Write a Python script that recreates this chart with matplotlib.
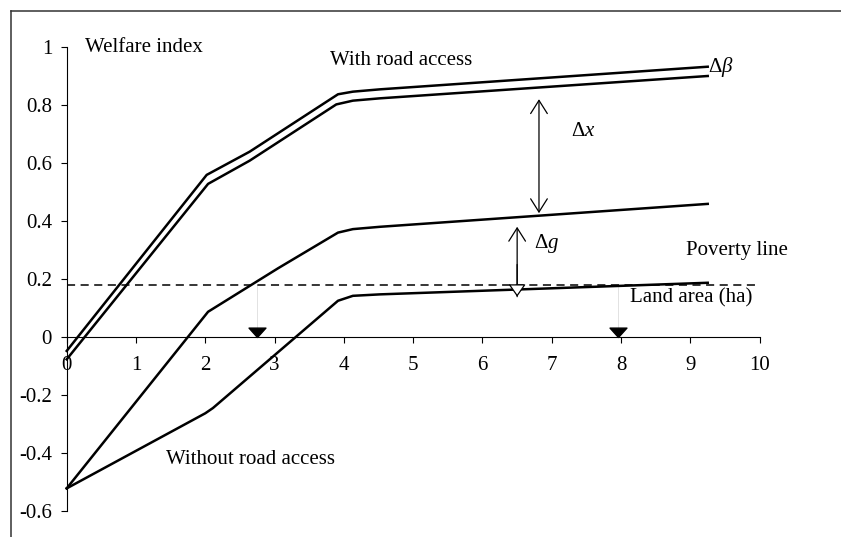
import matplotlib
matplotlib.use("Agg")
import matplotlib.pyplot as plt
from matplotlib.lines import Line2D
from matplotlib.path import Path

plt.rcParams['font.family'] = ['Liberation Serif', 'DejaVu Serif']
plt.rcParams['mathtext.fontset'] = 'custom'
plt.rcParams['mathtext.rm'] = 'Liberation Serif'
plt.rcParams['mathtext.it'] = 'Liberation Serif:italic'

# ---- data ----
road_hi_x = [0, 2.02, 2.64, 3.915, 4.13, 4.52, 9.25]
road_hi_y = [-0.048, 0.559, 0.639, 0.837, 0.846, 0.854, 0.932]
road_lo_x = [0, 2.04, 2.64, 3.89, 4.13, 4.52, 9.25]
road_lo_y = [-0.077, 0.528, 0.608, 0.802, 0.815, 0.823, 0.900]
noroad_hi_x = [0, 2.04, 3.05, 3.915, 4.13, 4.52, 9.25]
noroad_hi_y = [-0.522, 0.087, 0.237, 0.360, 0.372, 0.380, 0.459]
noroad_lo_x = [0, 2.0, 2.11, 3.915, 4.13, 4.52, 9.25]
noroad_lo_y = [-0.522, -0.263, -0.245, 0.125, 0.142, 0.147, 0.187]
poverty_line = 0.178
marker_x = [2.75, 7.96]
x_ticks = list(range(0, 11))
y_ticks = [-0.6, -0.4, -0.2, 0, 0.2, 0.4, 0.6, 0.8, 1]
y_tick_labels = ['-0.6', '-0.4', '-0.2', '0', '0.2', '0.4', '0.6', '0.8', '1']
dx_arrow = (6.815, 0.82, 0.427)
dg_arrow = (6.50, 0.380, 0.139)

W, H = 841, 537
fig = plt.figure(figsize=(W / 100, H / 100), dpi=100)
xl = (-0.9, 11.0)
yl = (-0.68, 1.12)
pxu, pyu = 69.3, 290.0
left = 66.7 + xl[0] * pxu
bottom = (H - 337) + yl[0] * pyu
ax = fig.add_axes([left / W, bottom / H, (xl[1] - xl[0]) * pxu / W, (yl[1] - yl[0]) * pyu / H])
ax.set_xlim(*xl)
ax.set_ylim(*yl)
ax.patch.set_visible(False)

for s in ['top', 'right']:
    ax.spines[s].set_visible(False)
ax.spines['left'].set_position(('data', 0))
ax.spines['bottom'].set_position(('data', 0))
ax.spines['left'].set_bounds(-0.6, 1)
ax.spines['bottom'].set_bounds(0, 10)
for s in ['left', 'bottom']:
    ax.spines[s].set_linewidth(0.8)
    ax.spines[s].set_color('black')

fs = 15
ax.set_xticks(x_ticks)
ax.set_xticklabels([str(t) for t in x_ticks], fontsize=fs)
ax.set_yticks(y_ticks)
ax.set_yticklabels(y_tick_labels, fontsize=fs)
ax.tick_params(axis='x', direction='out', length=4.5, width=0.8, pad=9)
ax.tick_params(axis='y', direction='out', length=4.5, width=0.8, pad=6)

lw = 1.8
for xs, ys in [(road_hi_x, road_hi_y), (road_lo_x, road_lo_y),
               (noroad_hi_x, noroad_hi_y), (noroad_lo_x, noroad_lo_y)]:
    ax.plot(xs, ys, color='black', lw=lw, solid_joinstyle='round', zorder=3)

ax.plot([0, 10], [poverty_line, poverty_line], color='black', lw=1.1,
        linestyle=(0, (5.3, 3.6)), zorder=2)

for mx in marker_x:
    ax.plot([mx, mx], [poverty_line, 0.03], color='#dddddd', lw=0.6, zorder=1)
tri = Path([(-0.9, 1.0), (0.9, 1.0), (0.0, 0.0), (-0.9, 1.0)],
           [Path.MOVETO, Path.LINETO, Path.LINETO, Path.CLOSEPOLY])
ax.plot(marker_x, [0, 0], linestyle='none', marker=tri, markersize=13.5,
        color='black', zorder=4)

ax.annotate('', xy=(dx_arrow[0], dx_arrow[2]), xytext=(dx_arrow[0], dx_arrow[1]),
            arrowprops=dict(arrowstyle='<->,head_length=0.95,head_width=0.6',
                            color='black', lw=0.9, shrinkA=0, shrinkB=0))
ax.annotate('', xy=(dg_arrow[0], dg_arrow[1]), xytext=(dg_arrow[0], dg_arrow[2]),
            arrowprops=dict(arrowstyle='->,head_length=0.95,head_width=0.6',
                            color='black', lw=0.9, shrinkA=0, shrinkB=0))
ax.annotate('', xy=(dg_arrow[0], dg_arrow[2]), xytext=(dg_arrow[0], 0.25),
            arrowprops=dict(arrowstyle='-|>,head_length=0.77,head_width=0.54',
                            color='black', fc='white', lw=0.9, shrinkA=0, shrinkB=0))

ax.text(0.27, 1.0, 'Welfare index', fontsize=fs, va='center', ha='left')
ax.text(3.8, 0.952, 'With road access', fontsize=fs, va='center', ha='left')
ax.text(9.26, 0.93, 'Δ$\\mathit{β}$', fontsize=fs, va='center', ha='left')
ax.text(7.28, 0.708, 'Δ$\\mathit{x}$', fontsize=fs, va='center', ha='left')
ax.text(6.75, 0.324, 'Δ$\\mathit{g}$', fontsize=fs, va='center', ha='left')
ax.text(8.94, 0.30, 'Poverty line', fontsize=fs, va='center', ha='left')
ax.text(8.13, 0.136, 'Land area (ha)', fontsize=fs, va='center', ha='left')
ax.text(1.44, -0.421, 'Without road access', fontsize=fs, va='center', ha='left')

fig.add_artist(Line2D([10.5 / W, 1.0], [1 - 11 / H, 1 - 11 / H], color='#333333', lw=1.1,
                      transform=fig.transFigure))
fig.add_artist(Line2D([10.5 / W, 10.5 / W], [0, 1 - 11 / H], color='#333333', lw=1.1,
                      transform=fig.transFigure))

fig.savefig('out.png', dpi=100)
